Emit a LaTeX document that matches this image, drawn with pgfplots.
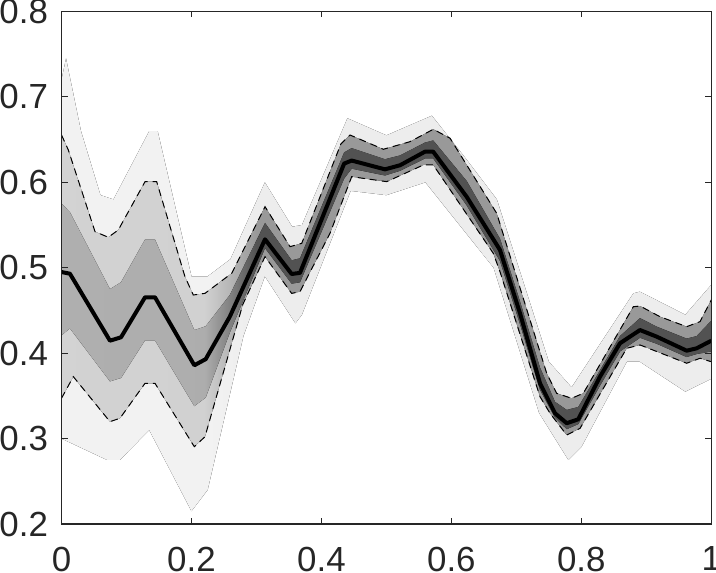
\documentclass[border=0pt]{standalone}
\usepackage{fontspec}
\setmainfont{Liberation Sans}
\usepackage{pgfplots}
\pgfplotsset{compat=1.18}
\usepgfplotslibrary{fillbetween}
\definecolor{axgray}{HTML}{262626}
\pgfdeclarehorizontalshading{shdouter}{100bp}{color(0bp)=(black!5); color(36bp)=(black!5); color(40bp)=(black!7); color(100bp)=(black!7)}
\pgfdeclarehorizontalshading{shdmid}{100bp}{color(0bp)=(black!16); color(36bp)=(black!18); color(40bp)=(black!40); color(100bp)=(black!40)}
\pgfdeclarehorizontalshading{shdinner}{100bp}{color(0bp)=(black!30); color(36bp)=(black!32); color(40bp)=(black!68); color(100bp)=(black!68)}
\begin{document}
\begin{tikzpicture}
\begin{axis}[
  at={(0,0)}, anchor=south west,
  scale only axis, width=649.8bp, height=512.5bp,
  xmin=0, xmax=1, ymin=0.2, ymax=0.8,
  xtick={0,0.2,0.4,0.6,0.8,1},
  ytick={0.2,0.3,0.4,0.5,0.6,0.7,0.8},
  xticklabels={0,0.2,0.4,0.6,0.8,1},
  yticklabels={0.2,0.3,0.4,0.5,0.6,0.7,0.8},
  tick align=inside, xtick pos=both, ytick pos=both,
  major tick length=6bp,
  axis line style={axgray, line width=1.1bp},
  tick style={axgray, line width=1.1bp},
  tick label style={font=\fontsize{35}{40}\selectfont, text=axgray, inner sep=0pt},
  xticklabel style={anchor=north, yshift=-22.5bp},
  yticklabel style={anchor=east, xshift=-13.4bp},
  /pgf/number format/assume math mode=true,
  axis on top,
  clip=true,
]
% outer faint envelope
\addplot[draw=none, name path=OU, forget plot] coordinates {
(0,0.72) (0.007,0.745) (0.03,0.66) (0.06,0.585) (0.08,0.58) (0.135,0.66) (0.148,0.66)
(0.2,0.49) (0.225,0.49) (0.26,0.51) (0.313,0.60) (0.355,0.548) (0.37,0.55) (0.44,0.675)
(0.5,0.655) (0.57,0.678) (0.62,0.63) (0.67,0.58) (0.75,0.39) (0.785,0.36) (0.88,0.47)
(0.89,0.472) (0.96,0.445) (1.0,0.48)};
\addplot[draw=none, name path=OL, forget plot] coordinates {
(0,0.30) (0.07,0.275) (0.09,0.275) (0.135,0.31) (0.2,0.215) (0.225,0.24) (0.28,0.42)
(0.313,0.49) (0.36,0.435) (0.37,0.445) (0.445,0.59) (0.5,0.585) (0.56,0.60) (0.665,0.50)
(0.735,0.33) (0.78,0.275) (0.80,0.29) (0.87,0.39) (0.89,0.39) (0.96,0.355) (1.0,0.37)};
% dashed bounds (paths)
\addplot[draw=none, name path=DU, forget plot] coordinates {
(0,0.6554) (0.0105,0.6379) (0.0516,0.5422) (0.072,0.5357) (0.0874,0.5442) (0.1285,0.6007)
(0.1465,0.6007) (0.19,0.4895) (0.2028,0.4681) (0.2208,0.470) (0.262,0.4935) (0.3132,0.5715)
(0.3517,0.5247) (0.3697,0.5286) (0.43,0.645) (0.444,0.6554) (0.4953,0.6387) (0.5363,0.6476)
(0.5722,0.6621) (0.598,0.6516) (0.6697,0.5638) (0.7467,0.3764) (0.762,0.353) (0.785,0.3472)
(0.803,0.353) (0.88,0.4544) (0.8903,0.4552) (0.921,0.4427) (0.962,0.431) (0.9826,0.4369) (1.0,0.4623)};
\addplot[draw=none, name path=DL, forget plot] coordinates {
(0,0.3472) (0.0182,0.3725) (0.0746,0.3198) (0.09,0.3238) (0.1285,0.3647) (0.1439,0.3647)
(0.2044,0.2905) (0.2208,0.3022) (0.279,0.457) (0.3132,0.513) (0.3542,0.470) (0.367,0.472)
(0.4132,0.5403) (0.4466,0.6066) (0.5005,0.6008) (0.5568,0.6203) (0.5722,0.6203) (0.6645,0.5169)
(0.6748,0.4954) (0.7364,0.349) (0.7518,0.3296) (0.7775,0.3042) (0.798,0.312) (0.8698,0.4057)
(0.8903,0.4096) (0.9621,0.3882) (0.9826,0.394) (1.0,0.39)};
% inner (dense core) band
\addplot[draw=none, name path=IU, forget plot] coordinates {
(0,0.575) (0.013,0.565) (0.0746,0.475) (0.0916,0.483) (0.1285,0.533) (0.1439,0.533)
(0.2044,0.427) (0.2219,0.4315) (0.259,0.468) (0.3132,0.5524) (0.3542,0.5087) (0.367,0.511)
(0.435,0.635) (0.4466,0.640) (0.4978,0.627) (0.521,0.6315) (0.5594,0.6465) (0.572,0.649)
(0.6236,0.6015) (0.6748,0.534) (0.7056,0.4605) (0.7364,0.383) (0.7595,0.343) (0.7775,0.3335)
(0.7953,0.337) (0.8287,0.380) (0.8595,0.420) (0.8903,0.441) (0.916,0.431) (0.9621,0.417)
(0.9775,0.420) (1.0,0.438)};
\addplot[draw=none, name path=IL, forget plot] coordinates {
(0,0.421) (0.013,0.429) (0.0746,0.367) (0.0916,0.371) (0.1285,0.415) (0.1439,0.415)
(0.2044,0.338) (0.2219,0.348) (0.259,0.424) (0.3132,0.523) (0.3542,0.4814) (0.367,0.483)
(0.435,0.6045) (0.4466,0.616) (0.4978,0.608) (0.521,0.6135) (0.5594,0.628) (0.572,0.628)
(0.6236,0.573) (0.6748,0.508) (0.7056,0.434) (0.7364,0.357) (0.7595,0.3245) (0.7775,0.311)
(0.7953,0.317) (0.8287,0.362) (0.8595,0.402) (0.8903,0.418) (0.916,0.411) (0.9621,0.3955)
(0.9775,0.399) (1.0,0.402)};
\addplot[shading=shdouter, shade, draw=none, forget plot] fill between[of=OU and OL];
\addplot[shading=shdmid, shade, draw=none, forget plot] fill between[of=DU and DL];
\addplot[shading=shdinner, shade, draw=none, forget plot] fill between[of=IU and IL];
% dashed lines on top of fills
\addplot[black, line width=1bp, dash pattern=on 7bp off 5bp, forget plot] coordinates {
(0,0.6554) (0.0105,0.6379) (0.0516,0.5422) (0.072,0.5357) (0.0874,0.5442) (0.1285,0.6007)
(0.1465,0.6007) (0.19,0.4895) (0.2028,0.4681) (0.2208,0.470) (0.262,0.4935) (0.3132,0.5715)
(0.3517,0.5247) (0.3697,0.5286) (0.43,0.645) (0.444,0.6554) (0.4953,0.6387) (0.5363,0.6476)
(0.5722,0.6621) (0.598,0.6516) (0.6697,0.5638) (0.7467,0.3764) (0.762,0.353) (0.785,0.3472)
(0.803,0.353) (0.88,0.4544) (0.8903,0.4552) (0.921,0.4427) (0.962,0.431) (0.9826,0.4369) (1.0,0.4623)};
\addplot[black, line width=1bp, dash pattern=on 7bp off 5bp, forget plot] coordinates {
(0,0.3472) (0.0182,0.3725) (0.0746,0.3198) (0.09,0.3238) (0.1285,0.3647) (0.1439,0.3647)
(0.2044,0.2905) (0.2208,0.3022) (0.279,0.457) (0.3132,0.513) (0.3542,0.470) (0.367,0.472)
(0.4132,0.5403) (0.4466,0.6066) (0.5005,0.6008) (0.5568,0.6203) (0.5722,0.6203) (0.6645,0.5169)
(0.6748,0.4954) (0.7364,0.349) (0.7518,0.3296) (0.7775,0.3042) (0.798,0.312) (0.8698,0.4057)
(0.8903,0.4096) (0.9621,0.3882) (0.9826,0.394) (1.0,0.39)};
% mean
\addplot[black, line width=4bp, line join=round, forget plot] coordinates {
(0,0.495) (0.013,0.493) (0.0746,0.4146) (0.0916,0.4186) (0.1285,0.4654) (0.1439,0.4654)
(0.2044,0.3858) (0.2219,0.393) (0.259,0.4427) (0.3132,0.5333) (0.3542,0.4927) (0.367,0.494)
(0.435,0.622) (0.4466,0.6255) (0.4978,0.6152) (0.521,0.620) (0.5594,0.6359) (0.572,0.6359)
(0.6236,0.583) (0.6748,0.5208) (0.7056,0.4467) (0.7364,0.3647) (0.7595,0.3296) (0.7775,0.318)
(0.7953,0.3226) (0.8287,0.3725) (0.8595,0.4116) (0.8903,0.4271) (0.916,0.4193) (0.9621,0.4029)
(0.9775,0.4057) (1.0,0.4146)};
\end{axis}
\pgfresetboundingbox
\useasboundingbox (-61.5bp,-49bp) rectangle (654.5bp,524bp);
\end{tikzpicture}
\end{document}
